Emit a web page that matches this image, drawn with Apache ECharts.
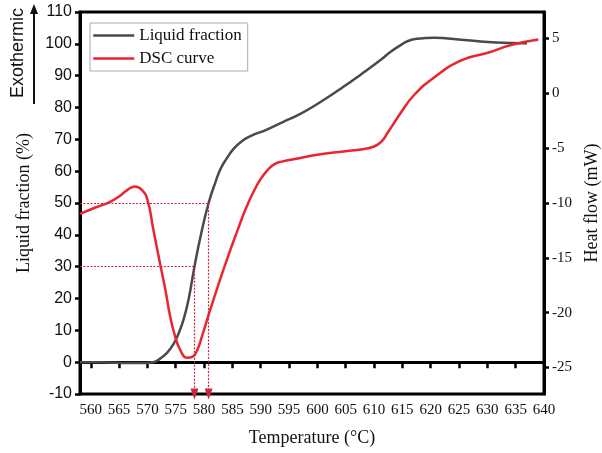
<!DOCTYPE html>
<html>
<head>
<meta charset="utf-8">
<script src="https://cdn.jsdelivr.net/npm/echarts@6/dist/echarts.min.js"></script>
<style>html,body{margin:0;padding:0;background:#fff;}#chart{width:602px;height:453px;}</style>
</head>
<body>
<div id="chart"></div>
<script>
// Liquid fraction (%) vs temperature (°C)
const liquidTemps = [558.1,560,563,566,568.7,571,572.3,573.5,574.6,575.5,576.4,577.3,578.3,579.5,580.8,582,582.9,584,585.2,586.5,588.2,591,594,597,600,604.6,607.7,611.2,613,614.7,616,617.7,620.6,625.4,630.1,634.2,637];
const liquidValues = [0,0,-0.1,-0.25,-0.3,0,1.2,3,5.7,9,13.5,20,30,40.5,50,56.5,60.7,64,67,69.2,71,73,75.5,78,81.1,86.5,90.4,95,97.6,99.6,100.9,101.6,101.9,101.3,100.6,100.3,100.2];
// DSC heat flow (mW) vs temperature (°C)
const dscTemps = [558.1,560.4,562,563.4,565,566.5,567.8,569,570,571,572.3,573.2,574,574.8,575.8,577,578,578.8,579.6,580.8,582.3,584,585.9,587.3,588.7,590,591.2,592.3,593.5,597,600,604.6,608,610,611.3,612.4,614.7,617,620.6,625.4,630.1,634.2,639];
const dscValues = [-11,-10.5,-10.2,-9.9,-9.4,-8.8,-8.5,-8.8,-9.7,-12.3,-15.7,-18,-20.3,-22,-23.4,-24.1,-24,-23.4,-22.2,-20.2,-17.8,-15.2,-12.5,-10.6,-9.0,-7.8,-7.0,-6.5,-6.25,-5.9,-5.6,-5.3,-5.1,-4.85,-4.4,-3.6,-1.8,-0.2,1.45,3.0,3.7,4.4,4.9];
// Guide lines: fraction levels and their temperatures
const guideFractions = [30, 50];
const guideTemps = [578.3, 580.8];
// Axis ticks
const xTicks = [560,565,570,575,580,585,590,595,600,605,610,615,620,625,630,635,640];
const heatTicks = [-25,-20,-15,-10,-5,0,5];

const serif = '"Liberation Serif", "Times New Roman", serif';
const sans = '"Liberation Sans", Arial, sans-serif';

const liquidData = liquidTemps.map((t, i) => [t, liquidValues[i]]);
const dscData = dscTemps.map((t, i) => [t, dscValues[i]]);
const xMin = 558.1, fracMin = -10;

const guideColor = '#c8283c';
const markData = [];
guideFractions.forEach((f, i) => {
  markData.push([{coord: [xMin, f], symbol: 'none'}, {coord: [guideTemps[i], f], symbol: 'none'}]);
  markData.push([{coord: [guideTemps[i], f], symbol: 'none'}, {coord: [guideTemps[i], fracMin], symbol: 'triangle', symbolSize: [8, 11]}]);
});

const chart = echarts.init(document.getElementById('chart'), null, {renderer: 'canvas'});
chart.setOption({
  animation: false,
  backgroundColor: '#fff',
  grid: {left: 80, right: 58, top: 12, bottom: 59, show: true, borderColor: '#000', borderWidth: 3, outerBoundsMode: 'none'},
  legend: {
    left: 90, top: 23, orient: 'vertical',
    padding: [4, 6, 4, 2], itemWidth: 41, itemHeight: 17, itemGap: 6,
    borderColor: '#aaa', borderWidth: 1,
    itemStyle: {opacity: 0},
    lineStyle: {width: 2.5},
    textStyle: {fontFamily: serif, fontSize: 17, color: '#111'},
    data: ['Liquid fraction', 'DSC curve']
  },
  xAxis: {
    type: 'value', min: xMin, max: 640,
    name: 'Temperature (°C)', nameLocation: 'middle', nameGap: 35,
    nameTextStyle: {fontFamily: serif, fontSize: 18, color: '#111'},
    splitLine: {show: false},
    axisLine: {lineStyle: {color: '#000', width: 3}},
    axisTick: {customValues: xTicks, length: 6, lineStyle: {color: '#000', width: 2.5}},
    axisLabel: {customValues: xTicks, margin: 9, fontFamily: serif, fontSize: 15, color: '#111'}
  },
  yAxis: [{
    type: 'value', min: -10, max: 110, interval: 10,
    name: 'Liquid fraction (%)', nameLocation: 'middle', nameGap: 47, nameRotate: 90,
    nameTextStyle: {fontFamily: serif, fontSize: 18, color: '#111'},
    splitLine: {show: false},
    axisLine: {show: true, lineStyle: {color: '#000', width: 3}},
    axisTick: {show: true, length: 5, lineStyle: {color: '#000', width: 2.5}},
    axisLabel: {margin: 8, fontFamily: sans, fontSize: 16, color: '#111'}
  }, {
    type: 'value', position: 'right', min: -27.41, max: 7.41,
    name: 'Heat flow (mW)', nameLocation: 'middle', nameGap: 38, nameRotate: 90,
    nameTextStyle: {fontFamily: serif, fontSize: 18, color: '#111'},
    splitLine: {show: false},
    axisLine: {show: true, lineStyle: {color: '#000', width: 3}},
    axisTick: {show: true, customValues: heatTicks, length: 5, lineStyle: {color: '#000', width: 2.5}},
    axisLabel: {customValues: heatTicks, margin: 8, fontFamily: serif, fontSize: 15, color: '#111'}
  }],
  series: [{
    name: 'Liquid fraction', type: 'line', yAxisIndex: 0, data: liquidData,
    smooth: 0.5, symbol: 'none', z: 3,
    lineStyle: {color: '#4a4a4a', width: 2.5}, itemStyle: {color: '#4a4a4a'},
    markLine: {
      silent: true, symbol: ['none', 'none'], label: {show: false},
      lineStyle: {color: guideColor, type: [2, 1.5], width: 1.2},
      itemStyle: {color: '#e8262f'},
      emphasis: {disabled: true},
      data: markData
    }
  }, {
    name: 'DSC curve', type: 'line', yAxisIndex: 1, data: dscData,
    smooth: 0.5, symbol: 'none', z: 4,
    lineStyle: {color: '#e8262f', width: 2.5}, itemStyle: {color: '#e8262f'}
  }],
  graphic: [
    {type: 'text', left: 9, top: 8, style: {text: 'Exothermic', font: '18px ' + sans, fill: '#111'}, rotation: Math.PI / 2},
    {type: 'line', shape: {x1: 34, y1: 104, x2: 34, y2: 12}, style: {stroke: '#111', lineWidth: 2}},
    {type: 'polygon', shape: {points: [[34, 4], [30, 14], [38, 14]]}, style: {fill: '#111'}}
  ]
});
</script>
</body>
</html>
